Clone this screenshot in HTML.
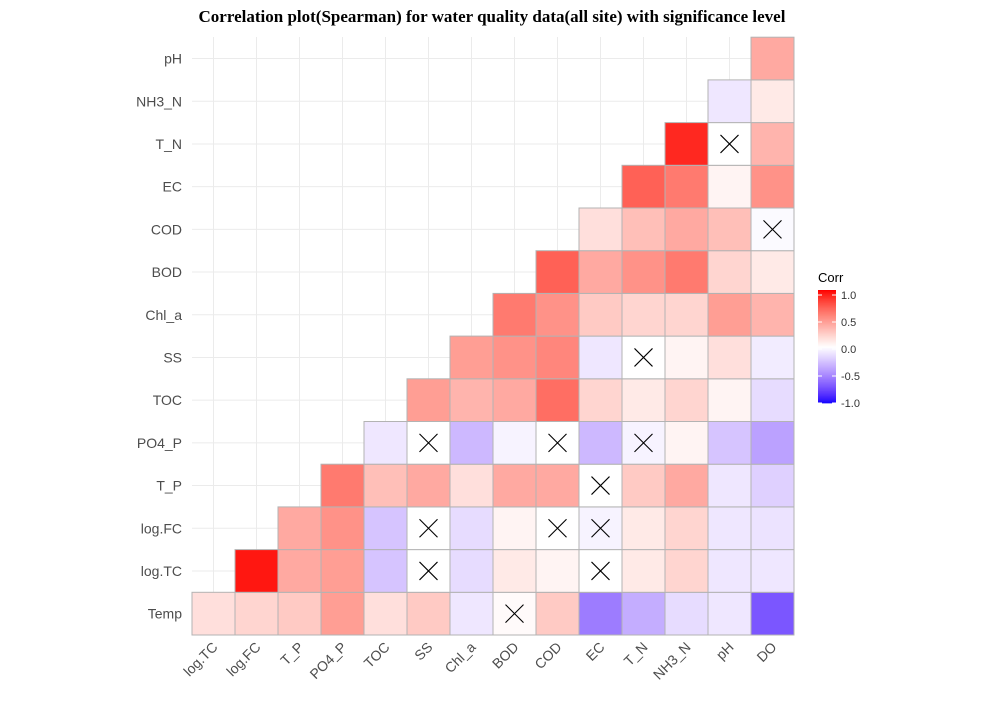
<!DOCTYPE html>
<html><head><meta charset="utf-8"><style>
body{margin:0;background:#fff;font-family:"Liberation Sans",sans-serif}
</style></head><body>
<svg id="c" width="1007" height="702" xmlns="http://www.w3.org/2000/svg">
<text x="492" y="22" text-anchor="middle" font-family="Liberation Serif" font-weight="bold" font-size="17">Correlation plot(Spearman) for water quality data(all site) with significance level</text>
<g id="grid"></g><g id="cells"></g><g id="xl"></g><g id="yl"></g><g id="legend"></g>
</svg>
<script>
const cols=["log.TC","log.FC","T_P","PO4_P","TOC","SS","Chl_a","BOD","COD","EC","T_N","NH3_N","pH","DO"];
const rows=["Temp","log.TC","log.FC","T_P","PO4_P","TOC","SS","Chl_a","BOD","COD","EC","T_N","NH3_N","pH"];
const rTemp=[0.15,0.2,0.25,0.45,0.15,0.25,-0.1,0.02,0.25,-0.55,-0.35,-0.15,-0.1,-0.7];
const rLogTC=[0.95,0.4,0.45,-0.25,0,-0.15,0.1,0.05,0,0.1,0.2,-0.1,-0.1];
const rLogFC=[0.4,0.5,-0.25,0,-0.15,0.05,0,-0.05,0.1,0.2,-0.1,-0.12];
const rTP=[0.6,0.3,0.4,0.15,0.4,0.4,0,0.25,0.4,-0.1,-0.2];
const rPO4=[-0.1,0,-0.3,-0.05,0,-0.3,-0.05,0.05,-0.25,-0.4];
const rTOC=[0.45,0.35,0.4,0.65,0.2,0.1,0.2,0.05,-0.15];
const rSS=[0.45,0.5,0.55,-0.1,0,0.05,0.15,-0.08];
const rChl=[0.6,0.5,0.25,0.2,0.2,0.45,0.35];
const rBOD=[0.7,0.4,0.5,0.6,0.2,0.1];
const rCOD=[0.15,0.3,0.4,0.3,-0.02];
const rEC=[0.7,0.6,0.05,0.5];
const rTN=[0.9,0,0.35];
const rNH3=[-0.1,0.1];
const rPH=[0.4];
const values=[rTemp,rLogTC,rLogFC,rTP,rPO4,rTOC,rSS,rChl,rBOD,rCOD,rEC,rTN,rNH3,rPH];
const crosses=[["Temp","BOD"],["log.TC","SS"],["log.TC","EC"],["log.FC","SS"],["log.FC","COD"],["log.FC","EC"],["T_P","EC"],["PO4_P","SS"],["PO4_P","COD"],["PO4_P","T_N"],["SS","T_N"],["COD","DO"],["T_N","pH"]];
const NS="http://www.w3.org/2000/svg";
const X0=192,CW=43,Y1=635,CH=42.7;
const xs=j=>X0+j*CW, ys=i=>Y1-(i+1)*CH;
function col(v){let r,g,b;if(v>=0){r=255;g=255*Math.pow(1-v,0.8);b=255*Math.pow(1-v,0.9);}else{const a=-v;r=255*Math.pow(1-a,0.6);g=255*Math.pow(1-a,0.9);b=255;}return `rgb(${r|0},${g|0},${b|0})`;}
function mk(t,a,p){const e=document.createElementNS(NS,t);for(const k in a)e.setAttribute(k,a[k]);p.appendChild(e);return e;}
const G=document.getElementById('grid');
for(let j=0;j<14;j++){const l=mk('line',{x1:xs(j)+CW/2,x2:xs(j)+CW/2,y1:37,y2:Y1,stroke:'#ebebeb'},G);}
for(let i=0;i<14;i++){const l=mk('line',{x1:X0,x2:X0+14*CW,y1:ys(i)+CH/2,y2:ys(i)+CH/2,stroke:'#ebebeb'},G);}
const C=document.getElementById('cells');
values.forEach((row,i)=>{row.forEach((v,k)=>{const j=i+k;
const r=mk('rect',{x:xs(j),y:ys(i),width:CW,height:CH,fill:col(v),stroke:'#b3b3b3','stroke-width':1},C);

});});
crosses.forEach(([rn,cn])=>{const i=rows.indexOf(rn),j=cols.indexOf(cn);const cx=xs(j)+CW/2,cy=ys(i)+CH/2,d=9;
const p=mk('path',{d:`M${cx-d} ${cy-d}L${cx+d} ${cy+d}M${cx+d} ${cy-d}L${cx-d} ${cy+d}`,stroke:'#000','stroke-width':1.1,fill:'none'},C);

});
const XL=document.getElementById('xl');
cols.forEach((c,j)=>{const x=xs(j)+CW/2+5,y=648;const t=mk('text',{x:x,y:y,'text-anchor':'end',transform:`rotate(-45 ${x} ${y})`,'font-size':14,fill:'#4d4d4d'},XL);t.textContent=c;

});
const YL=document.getElementById('yl');
rows.forEach((r,i)=>{const t=mk('text',{x:182,y:ys(i)+CH/2+5,'text-anchor':'end','font-size':14,fill:'#4d4d4d'},YL);t.textContent=r;

});
const L=document.getElementById('legend');
const lt=mk('text',{x:818,y:282,'font-size':13,fill:'#000'},L);lt.textContent='Corr';


for(let k=0;k<100;k++){const v=1-2*k/100;const r=mk('rect',{x:818,y:290+k*1.13,width:18,height:1.5,fill:col(v)},L);}
const ticks=[1,0.5,0,-0.5,-1];
ticks.forEach(v=>{const y=295+(1-v)/2*108;
mk('line',{x1:818,x2:822,y1:y,y2:y,stroke:'#fff'},L);mk('line',{x1:832,x2:836,y1:y,y2:y,stroke:'#fff'},L);
const t=mk('text',{x:841,y:y+4,'font-size':11,fill:'#333'},L);t.textContent=v.toFixed(1);

});
</script>
</body></html>
